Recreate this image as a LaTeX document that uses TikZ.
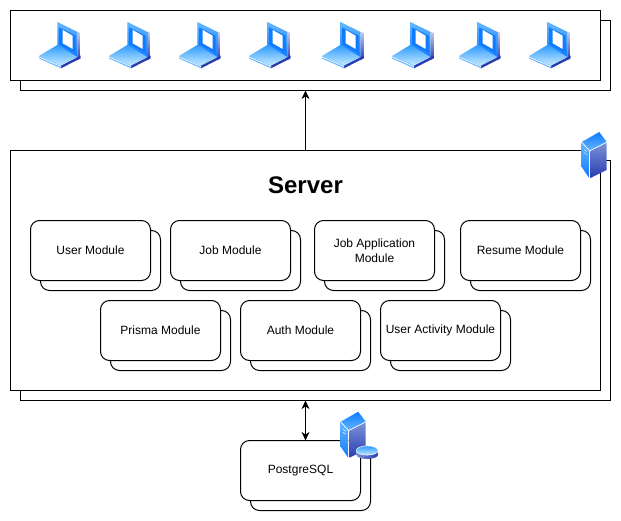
\documentclass[tikz,border=0pt]{standalone}
\usepackage{fontspec}
\setmainfont{Liberation Sans}
\usetikzlibrary{arrows.meta}
\definecolor{skyA}{HTML}{66B8FF}
\definecolor{skyB}{HTML}{0F7BFF}
\definecolor{skyC}{HTML}{C4EAFF}
\definecolor{skyD}{HTML}{2E9BFF}
\definecolor{navyA}{HTML}{2A3CB0}
\definecolor{slateA}{HTML}{7C93D8}
\tikzset{
  x=0.75pt,y=-0.75pt,
  panel/.style={draw=black,fill=white,line width=0.75pt,rectangle,inner sep=0pt,outer sep=0pt,anchor=north west},
  modbox/.style={panel,rounded corners=6.75pt,minimum width=90pt,minimum height=45pt,align=center,font=\fontsize{9pt}{11.25pt}\selectfont},
  link/.style={draw=black,line width=0.75pt},
  tip/.style={},
  laptop/.pic={
    \shade[top color=white,bottom color=navyA] (18.3,0.7) -- (41.7,11.7) -- (41.7,37.3) -- (38.3,39) -- (38.3,11.7) -- cycle;
    \shade[top color=skyA,bottom color=skyB] (18.3,0.7) -- (38.3,11) -- (38.3,38) -- (18.3,25) -- cycle;
    \draw[white,line width=0.5pt] (18.3,0.3) -- (41.7,11.7);
    \fill[skyB] (20,6.5) -- (36.5,14.5) -- (36.5,32) -- (20,23.5) -- cycle;
    \fill[white] (23.7,9) -- (33.7,14.7) -- (33.7,28) -- (23.7,22.3) -- cycle;
    \shade[left color=navyA,right color=navyA] (22,47.3) -- (41.7,37.3) -- (41.7,34.5) -- (22,44.5) -- cycle;
    \shade[top color=skyD,bottom color=skyC] (0,35) -- (18.3,24) -- (38.3,36) -- (22,44.5) -- cycle;
    \fill[skyA] (0,35) -- (22,44.5) -- (22,47.3) -- (0,37.5) -- cycle;
    \draw[white,line width=0.5pt] (0,36) -- (22,45.5);
  },
  serverpic/.pic={
    \shade[top color=skyB,bottom color=skyA] (0,10) -- (17.5,0) -- (25,10) -- (7.6,19) -- cycle;
    \shade[top color=slateA,bottom color=navyA] (8.6,18.7) -- (25,10.3) -- (25,38) -- (8.6,46) -- cycle;
    \shade[top color=skyA,bottom color=skyB] (0,10) -- (7.4,19) -- (7.4,46) -- (0,35) -- cycle;
    \draw[white,line width=0.5pt] (7.9,19) -- (25,10.2);
    \draw[white,line width=0.5pt] (0,10) -- (7.9,19) -- (7.9,46);
    \draw[white,line width=0.3pt] (2.2,17.5) -- (5,19.5) (2.2,20.5) -- (5,22.5);
  },
  diskpic/.pic={
    \shade[left color=slateA,right color=navyA] (0,5) -- (0,9) arc[start angle=180,end angle=0,x radius=11,y radius=4.5] -- (22,5) -- cycle;
    \shade[top color=skyD,bottom color=skyC] (11,5) ellipse[x radius=11,y radius=4.6];
    \draw[white,line width=0.4pt] (11,5) ellipse[x radius=11,y radius=4.6];
  }
}
\newcommand{\modstack}[4]{%
  \node[modbox] (#1back) at (#2+10,#3+10) {};
  \node[modbox] (#1) at (#2,#3) {#4};
}
\begin{document}
\begin{tikzpicture}
\useasboundingbox (0,0) rectangle (621,521);
\node[panel,minimum width=442.5pt,minimum height=52.5pt] (clientsback) at (20.5,20.5) {};
\node[panel,minimum width=442.5pt,minimum height=52.5pt] (clients) at (10.5,10.5) {};
\foreach \lx in {39,109,179,249,322,392,459,529} \pic at (\lx,21) {laptop};
\node[panel,minimum width=442.5pt,minimum height=180pt] (serverback) at (20.5,160.5) {};
\node[panel,minimum width=442.5pt,minimum height=180pt] (server) at (10.5,150.5) {};
\node[font=\fontsize{18pt}{22pt}\selectfont\bfseries,inner sep=0pt] (title) at (305.5,185) {Server};
\modstack{user}{30.5}{220.5}{User Module}
\modstack{job}{170.5}{220.5}{Job Module}
\modstack{jobapp}{314.5}{220.5}{Job Application\\Module}
\modstack{resume}{460.5}{220.5}{Resume Module}
\modstack{prisma}{100.5}{300.5}{Prisma Module}
\modstack{auth}{240.5}{300.5}{Auth Module}
\modstack{activity}{380.5}{300.5}{User Activity Module}
\modstack{pg}{240.5}{440.5}{PostgreSQL}
\coordinate (clientsin) at (server.north |- clientsback.south);
\coordinate (serverout) at (server.south |- serverback.south);
\coordinate (pgin) at (server.south |- pg.north);
\draw[link,-{Stealth[length=6.5pt,width=6pt]}] (server.north) -- (clientsin);
\draw[link,{Stealth[length=6.5pt,width=6pt]}-{Stealth[length=6.5pt,width=6pt]}] (serverout) -- (pgin);
\pic at (581.7,132) {serverpic};
\pic at (340.7,411.7) {serverpic};
\pic at (356.2,445.5) {diskpic};
\end{tikzpicture}
\end{document}
